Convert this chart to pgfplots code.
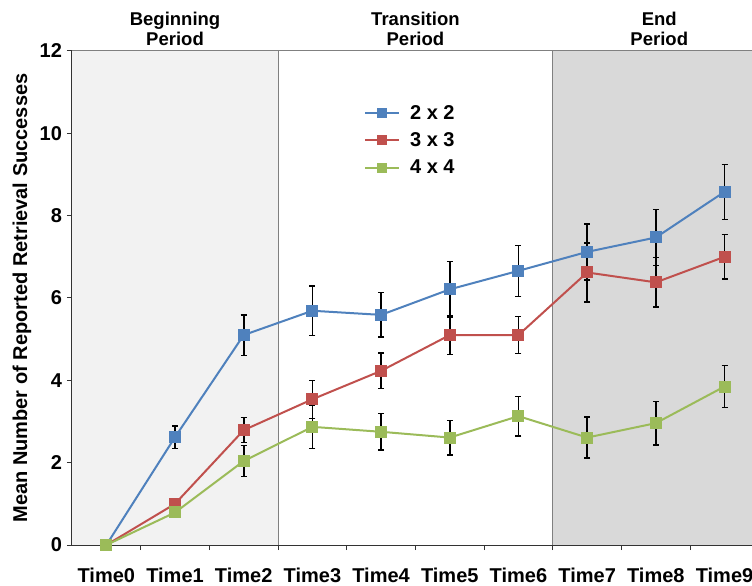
\documentclass[border=0pt]{standalone}
\usepackage{fontspec}
\setmainfont{Liberation Sans}
\usepackage{pgfplots}
\pgfplotsset{compat=1.18}
\definecolor{bl}{HTML}{4F81BD}
\definecolor{rd}{HTML}{C0504D}
\definecolor{gr}{HTML}{9BBB59}
\definecolor{bgA}{HTML}{F2F2F2}
\definecolor{bgC}{HTML}{D9D9D9}
\definecolor{divg}{HTML}{808080}
\newcommand{\tickfont}{\fontsize{20bp}{22bp}\selectfont\bfseries}
\newcommand{\titfont}{\fontsize{18.5bp}{20.5bp}\selectfont\bfseries}
\begin{document}
\begin{tikzpicture}
\begin{axis}[
  at={(0,0)}, anchor=south west,
  scale only axis, width=680bp, height=494bp,
  xmin=-0.5, xmax=9.4, ymin=0, ymax=12,
  clip=false,
  axis x line*=bottom, axis y line*=left,
  axis line style={black!80, line width=1bp},
  tick align=outside,
  major tick length=5bp, minor tick length=5bp,
  xtick={0,...,9},
  xticklabels={Time0,Time1,Time2,Time3,Time4,Time5,Time6,Time7,Time8,Time9},
  major x tick style={draw=none},
  minor xtick={0.5,1.5,...,8.5},
  minor x tick style={black!80, line width=1bp},
  ytick={0,2,...,12},
  major y tick style={black!80, line width=1bp},
  tick label style={font=\tickfont},
  xticklabel style={yshift=-14bp},
  yticklabel style={xshift=-1.5bp},
  /pgf/number format/assume math mode=true,
  ylabel={Mean Number of Reported Retrieval Successes},
  every axis y label/.style={at={(axis description cs:-0.0735,0.5)}, rotate=90, anchor=center, font=\fontsize{20bp}{22bp}\selectfont\bfseries},
  legend style={at={(axis cs:3.75,10.74)}, anchor=north west, draw=none, fill=none,
    font=\tickfont, row sep=8bp, inner sep=0pt,
    /tikz/every odd column/.append style={column sep=8bp}},
  legend cell align=left,
  legend image code/.code={\draw[mark repeat=2,mark phase=2, mark size=4bp] plot coordinates {(0bp,0bp) (17bp,0bp) (34bp,0bp)};},
]
\addplot[fill=bgA, draw=none, forget plot] coordinates {(-0.5,12) (2.5,12)} \closedcycle;
\addplot[fill=bgC, draw=none, forget plot] coordinates {(6.5,12) (9.4,12)} \closedcycle;
\addplot[divg, line width=1bp, forget plot] coordinates {(2.5,0) (2.5,12)};
\addplot[divg, line width=1bp, forget plot] coordinates {(6.5,0) (6.5,12)};
\addplot[divg, line width=1bp, forget plot] coordinates {(-0.5,12) (9.4,12)};

\addplot[bl, line width=2bp, mark=square*, mark size=5bp, mark options={fill=bl, draw=bl},
  error bars/.cd, y dir=both, y explicit,
  error bar style={black, line width=1.6bp},
  error mark options={rotate=90, black, mark size=3bp, line width=1.4bp}]
  table[x=x, y=y, y error=e] {
x y e
0 0 0
1 2.62 0.27
2 5.10 0.49
3 5.69 0.60
4 5.59 0.54
5 6.21 0.67
6 6.66 0.62
7 7.12 0.68
8 7.47 0.68
9 8.58 0.67
};
\addlegendentry{2 x 2}
\addplot[rd, line width=2bp, mark=square*, mark size=5bp, mark options={fill=rd, draw=rd},
  error bars/.cd, y dir=both, y explicit,
  error bar style={black, line width=1.6bp},
  error mark options={rotate=90, black, mark size=3bp, line width=1.4bp}]
  table[x=x, y=y, y error=e] {
x y e
0 0 0
1 1.00 0.13
2 2.79 0.30
3 3.54 0.46
4 4.23 0.43
5 5.10 0.47
6 5.10 0.45
7 6.62 0.72
8 6.38 0.60
9 7.00 0.54
};
\addlegendentry{3 x 3}
\addplot[gr, line width=2bp, mark=square*, mark size=5bp, mark options={fill=gr, draw=gr},
  error bars/.cd, y dir=both, y explicit,
  error bar style={black, line width=1.6bp},
  error mark options={rotate=90, black, mark size=3bp, line width=1.4bp}]
  table[x=x, y=y, y error=e] {
x y e
0 0 0
1 0.79 0.10
2 2.04 0.37
3 2.87 0.52
4 2.75 0.44
5 2.61 0.42
6 3.13 0.48
7 2.61 0.50
8 2.96 0.53
9 3.85 0.51
};
\addlegendentry{4 x 4}

\node[align=center, anchor=south, inner sep=0pt, font=\titfont, yshift=5bp] at (axis cs:1,12) {Beginning\\Period};
\node[align=center, anchor=south, inner sep=0pt, font=\titfont, yshift=5bp] at (axis cs:4.5,12) {Transition\\Period};
\node[align=center, anchor=south, inner sep=0pt, font=\titfont, yshift=5bp] at (axis cs:8.05,12) {End\\Period};
\end{axis}
\pgfresetboundingbox
\useasboundingbox (-72bp,-41bp) rectangle (680bp,545bp);
\end{tikzpicture}
\end{document}
